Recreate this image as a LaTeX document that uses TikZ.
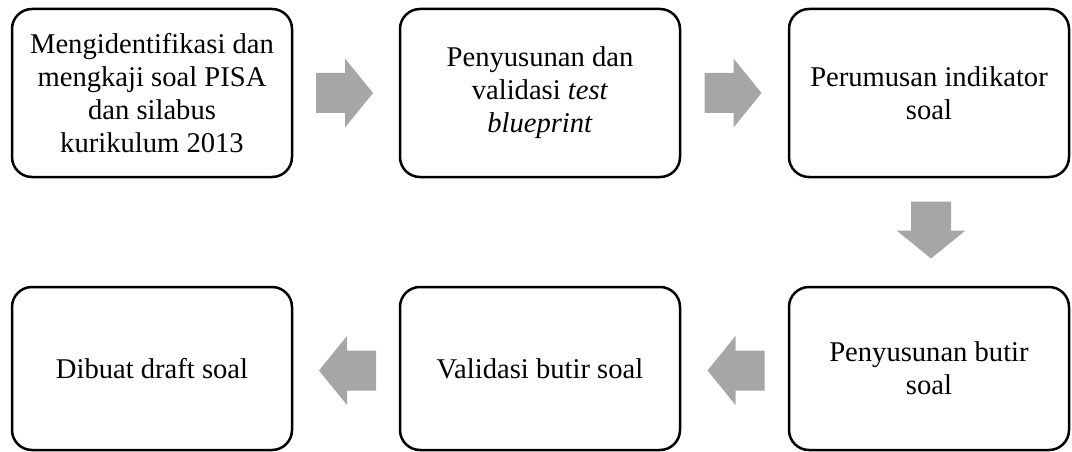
\documentclass[tikz,border=0pt]{standalone}
\usepackage{fontspec}
\setmainfont{Liberation Serif}
\usetikzlibrary{calc}
\definecolor{arrgray}{HTML}{A6A6A6}
\tikzset{
  stepbox/.style={draw=black, line width=2.5pt, rounded corners=20pt, minimum width=280pt,
    inner sep=0pt, outer sep=0pt, align=center, font=\fontsize{28.6}{33}\selectfont},
  topbox/.style={stepbox, minimum height=168pt},
  botbox/.style={stepbox, minimum height=163pt},
  blockarr/.style={fill=arrgray, draw=none}
}
\newcommand{\blockarrow}[2]{%
  \begin{scope}[shift={#1}, rotate=#2]
    \fill[blockarr] (-28.5,20) -- (0.5,20) -- (0.5,34.5) -- (28.5,0) -- (0.5,-34.5) -- (0.5,-20) -- (-28.5,-20) -- cycle;
  \end{scope}}
\begin{document}
\begin{tikzpicture}[x=1pt, y=-1pt]
  \useasboundingbox (0,0) rectangle (1072,452);
  % top row
  \node[topbox] (b1) at (152,93) {Mengidentifikasi dan\\mengkaji soal PISA\\dan silabus\\kurikulum 2013};
  \node[topbox] (b2) at (540,93) {Penyusunan dan\\validasi \textit{test}\\\textit{blueprint}};
  \node[topbox] (b3) at (929,93) {Perumusan indikator\\soal};
  % bottom row
  \node[botbox] (b6) at (152,368.5) {Dibuat draft soal};
  \node[botbox] (b5) at (540,368.5) {Validasi butir soal};
  \node[botbox] (b4) at (929,368.5) {Penyusunan butir\\soal};
  % block arrows
  \coordinate (a1) at ($(b1.east)!0.5!(b2.west)+(-1.5,0)$);
  \coordinate (a2) at ($(b2.east)!0.5!(b3.west)+(-1.5,0)$);
  \coordinate (a3) at ($(b3.south)!0.5!(b4.north)+(2,-2)$);
  \coordinate (a4) at ($(b4.west)!0.5!(b5.east)+(1.5,2)$);
  \coordinate (a5) at ($(b5.west)!0.5!(b6.east)+(1.5,2)$);
  \blockarrow{(a1)}{0}
  \blockarrow{(a2)}{0}
  \blockarrow{(a3)}{-90}
  \blockarrow{(a4)}{180}
  \blockarrow{(a5)}{180}
\end{tikzpicture}
\end{document}
